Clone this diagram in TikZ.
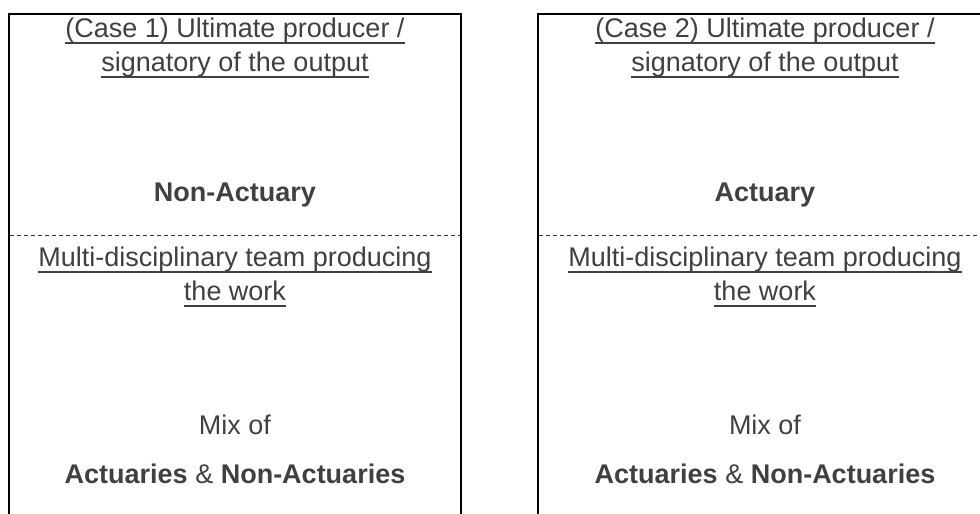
\documentclass[tikz,border=0pt]{standalone}
\usepackage{fontspec}
\setmainfont{Liberation Sans}
\definecolor{txtgray}{HTML}{404040}
\tikzset{
	caselabel/.style={anchor=base, inner sep=0pt, text=txtgray, font=\fontsize{27}{35}\selectfont},
	frame/.style={line width=2pt, black},
	ul/.style={line width=1.8pt, txtgray}
}
\begin{document}
\begin{tikzpicture}[x=1pt,y=-1pt]
		\useasboundingbox (0,0) rectangle (980,514);

		% case 1 box
		\draw[frame] (9,514) -- (9,14) -- (461,14) -- (461,514);
		\draw[dashed, dash pattern=on 4pt off 3pt, line width=1pt, black!80] (10,235) -- (460,235);

		% case 2 box (runs off the right edge)
		\draw[frame] (538,514) -- (538,14) -- (992,14);
		\draw[dashed, dash pattern=on 4pt off 3pt, line width=1pt, black!80] (539,235) -- (980,235);

		\node[caselabel] (oneA) at (235,37) {(Case 1) Ultimate producer /};
		\node[caselabel] (oneB) at (235,71) {signatory of the output};
		\node[caselabel] (oneWho) at (235,201) {\textbf{Non-Actuary}};
		\node[caselabel] (oneTeamA) at (235,266) {Multi-disciplinary team producing};
		\node[caselabel] (oneTeamB) at (235,300) {the work};
		\node[caselabel] (oneMix) at (235,434) {Mix of};
		\node[caselabel] (oneAct) at (235,483) {\textbf{Actuaries} \& \textbf{Non-Actuaries}};

		\node[caselabel] (twoA) at (765,37) {(Case 2) Ultimate producer /};
		\node[caselabel] (twoB) at (765,71) {signatory of the output};
		\node[caselabel] (twoWho) at (765,201) {\textbf{Actuary}};
		\node[caselabel] (twoTeamA) at (765,266) {Multi-disciplinary team producing};
		\node[caselabel] (twoTeamB) at (765,300) {the work};
		\node[caselabel] (twoMix) at (765,434) {Mix of};
		\node[caselabel] (twoAct) at (765,483) {\textbf{Actuaries} \& \textbf{Non-Actuaries}};

		% underlines
		\draw[ul] ([yshift=-6pt]oneA.base west) -- ([yshift=-6pt]oneA.base east);
		\draw[ul] ([yshift=-6pt]oneB.base west) -- ([yshift=-6pt]oneB.base east);
		\draw[ul] ([yshift=-6pt]oneTeamA.base west) -- ([yshift=-6pt]oneTeamA.base east);
		\draw[ul] ([yshift=-6pt]oneTeamB.base west) -- ([yshift=-6pt]oneTeamB.base east);
		\draw[ul] ([yshift=-6pt]twoA.base west) -- ([yshift=-6pt]twoA.base east);
		\draw[ul] ([yshift=-6pt]twoB.base west) -- ([yshift=-6pt]twoB.base east);
		\draw[ul] ([yshift=-6pt]twoTeamA.base west) -- ([yshift=-6pt]twoTeamA.base east);
		\draw[ul] ([yshift=-6pt]twoTeamB.base west) -- ([yshift=-6pt]twoTeamB.base east);

	\end{tikzpicture}
\end{document}
